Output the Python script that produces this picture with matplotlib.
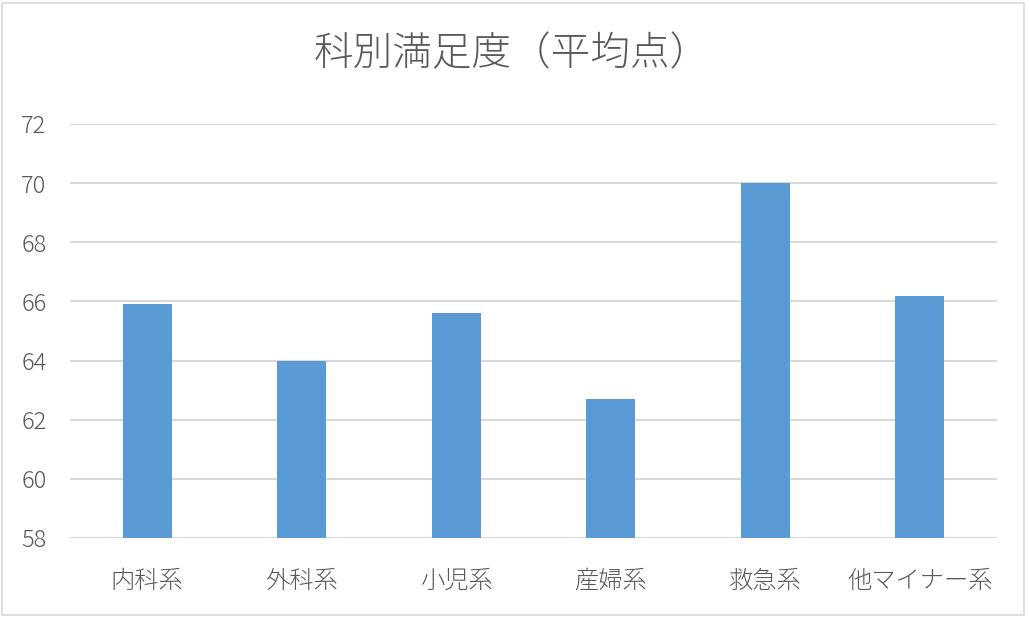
import matplotlib
matplotlib.use("Agg")
import matplotlib.pyplot as plt
from matplotlib.patches import Rectangle

categories = ["内科系", "外科系", "小児系", "産婦系", "救急系", "他マイナー系"]
values = [65.9, 64.0, 65.6, 62.7, 70.0, 66.2]
yticks = [58, 60, 62, 64, 66, 68, 70, 72]
title = "科別満足度（平均点）"

plt.rcParams['font.family'] = ['Noto Sans CJK JP', 'DejaVu Sans']
text_color = "#595959"

fig = plt.figure(figsize=(10.29, 6.18), dpi=100)
ax = fig.add_axes([70/1029, 1-538/618, (997-70)/1029, (538-124)/618])

x = list(range(len(categories)))
ax.bar(x, [v - 58 for v in values], bottom=58, width=0.32, color="#5B9BD5", zorder=3)

ax.set_xlim(-0.5, len(categories) - 0.5)
ax.set_ylim(58, 72)
ax.set_yticks(yticks)
ax.set_yticklabels([str(t) for t in yticks], fontsize=17, color=text_color, fontweight='light')
ax.set_xticks(x)
ax.set_xticklabels(categories, fontsize=17.5, color=text_color, fontweight='light')
ax.tick_params(axis='both', length=0)
ax.tick_params(axis='y', pad=17)
ax.tick_params(axis='x', pad=22)

ax.grid(axis='y', color="#D9D9D9", linewidth=1.5, zorder=0)
for s in ["top", "right", "left", "bottom"]:
    ax.spines[s].set_visible(False)
ax.axhline(58, color="#D9D9D9", linewidth=1.5, zorder=2)

fig.text(0.4975, 1-54/618, title, ha='center', va='center', fontsize=28.5,
         color=text_color, fontweight='light')

fig.patches.append(Rectangle((2/1029, 3/618), 1022/1029, 612/618, transform=fig.transFigure,
                             fill=False, edgecolor="#D9D9D9", linewidth=1.2))

fig.savefig("out.png", dpi=100)
